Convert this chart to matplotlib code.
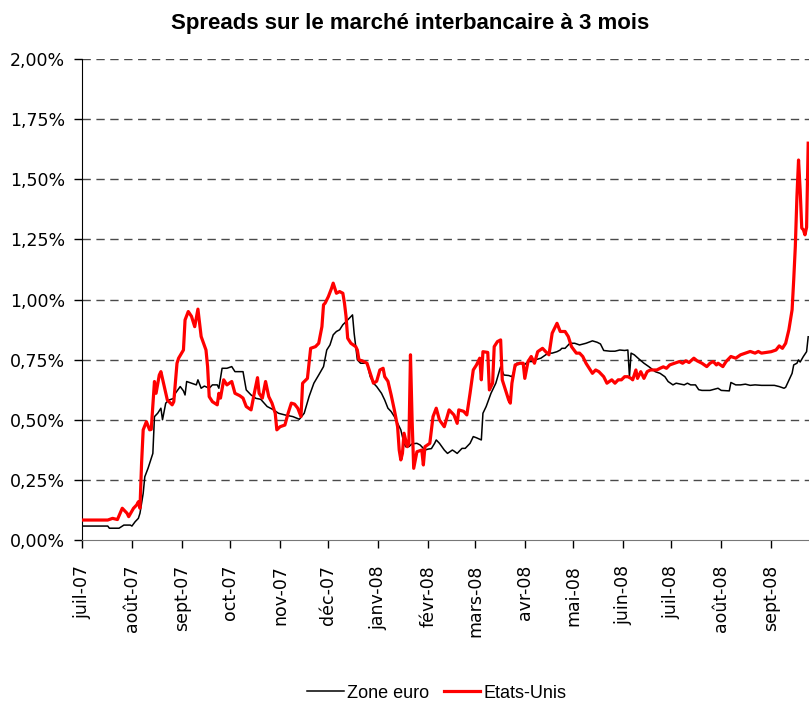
import matplotlib
matplotlib.use("Agg")
import matplotlib.pyplot as plt
import pandas as pd

# ---- data (spreads in %) ----
euro_dates = [
    "2007-07-01", "2007-07-17", "2007-07-18", "2007-07-24", "2007-07-27", "2007-07-31",
    "2007-08-01", "2007-08-03", "2007-08-05", "2007-08-06", "2007-08-08", "2007-08-09",
    "2007-08-11", "2007-08-14", "2007-08-15", "2007-08-17", "2007-08-19", "2007-08-20",
    "2007-08-22", "2007-08-24", "2007-08-27", "2007-08-28", "2007-08-31", "2007-09-02",
    "2007-09-03", "2007-09-04", "2007-09-07", "2007-09-10", "2007-09-11", "2007-09-13",
    "2007-09-15", "2007-09-18", "2007-09-20", "2007-09-23", "2007-09-24", "2007-09-26",
    "2007-09-29", "2007-10-02", "2007-10-04", "2007-10-07", "2007-10-09", "2007-10-11",
    "2007-10-14", "2007-10-17", "2007-10-20", "2007-10-24", "2007-10-28", "2007-10-31",
    "2007-11-04", "2007-11-09", "2007-11-13", "2007-11-16", "2007-11-19", "2007-11-22",
    "2007-11-25", "2007-11-28", "2007-11-30", "2007-12-02", "2007-12-04", "2007-12-06",
    "2007-12-08", "2007-12-10", "2007-12-12", "2007-12-14", "2007-12-16", "2007-12-17",
    "2007-12-18", "2007-12-19", "2007-12-21", "2007-12-25", "2007-12-27", "2007-12-29",
    "2007-12-31", "2008-01-03", "2008-01-05", "2008-01-07", "2008-01-09", "2008-01-11",
    "2008-01-13", "2008-01-15", "2008-01-17", "2008-01-18", "2008-01-20", "2008-01-22",
    "2008-01-25", "2008-01-27", "2008-01-29", "2008-01-30", "2008-02-01", "2008-02-03",
    "2008-02-05", "2008-02-06", "2008-02-08", "2008-02-11", "2008-02-13", "2008-02-16",
    "2008-02-17", "2008-02-19", "2008-02-22", "2008-02-24", "2008-02-27", "2008-02-29",
    "2008-03-02", "2008-03-05", "2008-03-06", "2008-03-08", "2008-03-11", "2008-03-14",
    "2008-03-17", "2008-03-19", "2008-03-22", "2008-03-24", "2008-03-27", "2008-03-29",
    "2008-04-01", "2008-04-03", "2008-04-06", "2008-04-08", "2008-04-11", "2008-04-14",
    "2008-04-16", "2008-04-18", "2008-04-21", "2008-04-23", "2008-04-24", "2008-04-26",
    "2008-04-29", "2008-05-02", "2008-05-05", "2008-05-09", "2008-05-13", "2008-05-16",
    "2008-05-18", "2008-05-20", "2008-05-24", "2008-05-27", "2008-05-30", "2008-06-02",
    "2008-06-04", "2008-06-05", "2008-06-06", "2008-06-08", "2008-06-11", "2008-06-14",
    "2008-06-17", "2008-06-21", "2008-06-24", "2008-06-27", "2008-06-29", "2008-07-02",
    "2008-07-04", "2008-07-07", "2008-07-09", "2008-07-11", "2008-07-13", "2008-07-16",
    "2008-07-18", "2008-07-20", "2008-07-25", "2008-07-30", "2008-08-01", "2008-08-06",
    "2008-08-07", "2008-08-10", "2008-08-13", "2008-08-16", "2008-08-19", "2008-08-22",
    "2008-08-26", "2008-08-30", "2008-09-03", "2008-09-06", "2008-09-09", "2008-09-10",
    "2008-09-13", "2008-09-14", "2008-09-15", "2008-09-17", "2008-09-18", "2008-09-19",
    "2008-09-21", "2008-09-23", "2008-09-24",
]
euro_values = [
    0.058, 0.058, 0.049, 0.049, 0.062, 0.062,
    0.058, 0.076, 0.090, 0.111, 0.194, 0.263,
    0.298, 0.360, 0.513, 0.527, 0.548, 0.500,
    0.569, 0.582, 0.589, 0.610, 0.638, 0.620,
    0.603, 0.659, 0.652, 0.645, 0.666, 0.631,
    0.640, 0.631, 0.645, 0.645, 0.631, 0.714,
    0.714, 0.721, 0.700, 0.700, 0.700, 0.624,
    0.603, 0.589, 0.585, 0.555, 0.541, 0.527,
    0.520, 0.513, 0.502, 0.527, 0.596, 0.652,
    0.686, 0.721, 0.790, 0.811, 0.853, 0.867,
    0.874, 0.895, 0.908, 0.922, 0.936, 0.860,
    0.804, 0.749, 0.735, 0.735, 0.679, 0.652,
    0.638, 0.610, 0.582, 0.548, 0.534, 0.513,
    0.485, 0.458, 0.402, 0.388, 0.388, 0.400,
    0.402, 0.395, 0.381, 0.374, 0.378, 0.380,
    0.402, 0.416, 0.402, 0.374, 0.360, 0.374,
    0.370, 0.360, 0.381, 0.381, 0.402, 0.430,
    0.425, 0.416, 0.527, 0.555, 0.610, 0.652,
    0.721, 0.686, 0.684, 0.679, 0.735, 0.735,
    0.730, 0.742, 0.742, 0.750, 0.756, 0.770,
    0.777, 0.777, 0.783, 0.790, 0.797, 0.797,
    0.818, 0.818, 0.811, 0.818, 0.828, 0.822,
    0.815, 0.788, 0.785, 0.785, 0.790, 0.788,
    0.790, 0.679, 0.777, 0.770, 0.752, 0.735,
    0.721, 0.700, 0.693, 0.679, 0.659, 0.645,
    0.652, 0.648, 0.645, 0.652, 0.645, 0.645,
    0.625, 0.622, 0.622, 0.631, 0.622, 0.620,
    0.655, 0.645, 0.645, 0.648, 0.643, 0.645,
    0.643, 0.643, 0.643, 0.638, 0.631, 0.635,
    0.679, 0.693, 0.728, 0.735, 0.749, 0.740,
    0.763, 0.783, 0.845,
]

us_dates = [
    "2007-07-01", "2007-07-17", "2007-07-20", "2007-07-23", "2007-07-26", "2007-07-29",
    "2007-07-30", "2007-08-02", "2007-08-04", "2007-08-05", "2007-08-06", "2007-08-07",
    "2007-08-08", "2007-08-10", "2007-08-12", "2007-08-13", "2007-08-15", "2007-08-16",
    "2007-08-18", "2007-08-19", "2007-08-22", "2007-08-23", "2007-08-26", "2007-08-27",
    "2007-08-29", "2007-08-30", "2007-09-02", "2007-09-03", "2007-09-05", "2007-09-07",
    "2007-09-09", "2007-09-11", "2007-09-13", "2007-09-16", "2007-09-17", "2007-09-18",
    "2007-09-20", "2007-09-23", "2007-09-24", "2007-09-25", "2007-09-27", "2007-09-29",
    "2007-10-02", "2007-10-04", "2007-10-07", "2007-10-09", "2007-10-11", "2007-10-14",
    "2007-10-16", "2007-10-18", "2007-10-19", "2007-10-21", "2007-10-23", "2007-10-25",
    "2007-10-27", "2007-10-29", "2007-10-30", "2007-11-01", "2007-11-04", "2007-11-06",
    "2007-11-08", "2007-11-10", "2007-11-12", "2007-11-14", "2007-11-15", "2007-11-18",
    "2007-11-20", "2007-11-23", "2007-11-25", "2007-11-27", "2007-11-28", "2007-11-29",
    "2007-12-01", "2007-12-03", "2007-12-04", "2007-12-06", "2007-12-08", "2007-12-10",
    "2007-12-11", "2007-12-12", "2007-12-13", "2007-12-15", "2007-12-18", "2007-12-19",
    "2007-12-20", "2007-12-22", "2007-12-25", "2007-12-27", "2007-12-29", "2007-12-31",
    "2008-01-02", "2008-01-04", "2008-01-05", "2008-01-07", "2008-01-09", "2008-01-11",
    "2008-01-13", "2008-01-14", "2008-01-15", "2008-01-16", "2008-01-17", "2008-01-19",
    "2008-01-20", "2008-01-21", "2008-01-22", "2008-01-23", "2008-01-25", "2008-01-28",
    "2008-01-29", "2008-01-30", "2008-02-02", "2008-02-04", "2008-02-06", "2008-02-08",
    "2008-02-11", "2008-02-14", "2008-02-17", "2008-02-19", "2008-02-20", "2008-02-23",
    "2008-02-25", "2008-02-27", "2008-02-29", "2008-03-02", "2008-03-04", "2008-03-05",
    "2008-03-06", "2008-03-09", "2008-03-10", "2008-03-12", "2008-03-13", "2008-03-15",
    "2008-03-17", "2008-03-18", "2008-03-20", "2008-03-22", "2008-03-23", "2008-03-24",
    "2008-03-26", "2008-03-29", "2008-03-31", "2008-04-01", "2008-04-03", "2008-04-05",
    "2008-04-07", "2008-04-09", "2008-04-12", "2008-04-14", "2008-04-16", "2008-04-18",
    "2008-04-21", "2008-04-23", "2008-04-26", "2008-04-28", "2008-04-30", "2008-05-03",
    "2008-05-05", "2008-05-07", "2008-05-09", "2008-05-11", "2008-05-13", "2008-05-15",
    "2008-05-17", "2008-05-20", "2008-05-22", "2008-05-25", "2008-05-27", "2008-05-29",
    "2008-05-31", "2008-06-02", "2008-06-04", "2008-06-06", "2008-06-07", "2008-06-09",
    "2008-06-10", "2008-06-12", "2008-06-14", "2008-06-16", "2008-06-18", "2008-06-22",
    "2008-06-24", "2008-06-26", "2008-06-28", "2008-06-30", "2008-07-03", "2008-07-06",
    "2008-07-08", "2008-07-10", "2008-07-12", "2008-07-15", "2008-07-17", "2008-07-20",
    "2008-07-23", "2008-07-25", "2008-07-27", "2008-07-29", "2008-07-30", "2008-08-02",
    "2008-08-04", "2008-08-07", "2008-08-10", "2008-08-13", "2008-08-16", "2008-08-19",
    "2008-08-22", "2008-08-24", "2008-08-26", "2008-08-29", "2008-09-01", "2008-09-04",
    "2008-09-06", "2008-09-08", "2008-09-10", "2008-09-12", "2008-09-14", "2008-09-15",
    "2008-09-16", "2008-09-17", "2008-09-18", "2008-09-19", "2008-09-20", "2008-09-21",
    "2008-09-22", "2008-09-23", "2008-09-24",
]
us_values = [
    0.083, 0.083, 0.090, 0.085, 0.132, 0.111,
    0.097, 0.132, 0.146, 0.159, 0.132, 0.319,
    0.458, 0.492, 0.458, 0.460, 0.659, 0.610,
    0.686, 0.700, 0.610, 0.582, 0.562, 0.575,
    0.735, 0.756, 0.790, 0.915, 0.950, 0.930,
    0.887, 0.960, 0.846, 0.790, 0.721, 0.596,
    0.575, 0.562, 0.610, 0.590, 0.666, 0.645,
    0.659, 0.610, 0.600, 0.590, 0.555, 0.541,
    0.610, 0.675, 0.610, 0.590, 0.659, 0.596,
    0.569, 0.527, 0.458, 0.471, 0.478, 0.527,
    0.569, 0.565, 0.548, 0.513, 0.652, 0.672,
    0.797, 0.804, 0.818, 0.887, 0.978, 0.985,
    1.012, 1.047, 1.068, 1.026, 1.033, 1.026,
    0.985, 0.929, 0.839, 0.818, 0.804, 0.790,
    0.749, 0.745, 0.735, 0.693, 0.652, 0.660,
    0.707, 0.714, 0.679, 0.660, 0.603, 0.540,
    0.471, 0.374, 0.333, 0.360, 0.444, 0.388,
    0.400, 0.770, 0.500, 0.298, 0.367, 0.374,
    0.312, 0.388, 0.402, 0.513, 0.548, 0.499,
    0.471, 0.541, 0.520, 0.485, 0.541, 0.535,
    0.520, 0.610, 0.707, 0.728, 0.756, 0.666,
    0.783, 0.780, 0.624, 0.652, 0.804, 0.825,
    0.832, 0.666, 0.624, 0.582, 0.569, 0.652,
    0.728, 0.735, 0.735, 0.672, 0.742, 0.763,
    0.735, 0.783, 0.797, 0.783, 0.770, 0.860,
    0.901, 0.867, 0.867, 0.846, 0.804, 0.777,
    0.777, 0.763, 0.735, 0.714, 0.693, 0.707,
    0.700, 0.679, 0.652, 0.666, 0.652, 0.666,
    0.666, 0.679, 0.679, 0.672, 0.666, 0.707,
    0.672, 0.700, 0.672, 0.700, 0.707, 0.707,
    0.714, 0.720, 0.714, 0.728, 0.735, 0.742,
    0.735, 0.745, 0.738, 0.756, 0.745, 0.735,
    0.721, 0.735, 0.742, 0.728, 0.735, 0.721,
    0.742, 0.763, 0.756, 0.770, 0.777, 0.784,
    0.777, 0.784, 0.777, 0.780, 0.783, 0.790,
    0.807, 0.797, 0.818, 0.874, 0.957, 1.081,
    1.220, 1.428, 1.580, 1.456, 1.297, 1.290,
    1.269, 1.300, 1.650,
]

month_ticks = ["2007-07-01", "2007-08-01", "2007-09-01", "2007-10-01", "2007-11-01",
               "2007-12-01", "2008-01-01", "2008-02-01", "2008-03-01", "2008-04-01",
               "2008-05-01", "2008-06-01", "2008-07-01", "2008-08-01", "2008-09-01"]
month_labels = ["juil-07", "août-07", "sept-07", "oct-07", "nov-07", "déc-07", "janv-08",
                "févr-08", "mars-08", "avr-08", "mai-08", "juin-08", "juil-08", "août-08",
                "sept-08"]
y_ticks = [0.0, 0.25, 0.5, 0.75, 1.0, 1.25, 1.5, 1.75, 2.0]
y_labels = ["0,00%", "0,25%", "0,50%", "0,75%", "1,00%", "1,25%", "1,50%", "1,75%", "2,00%"]

series_names = ["Zone euro", "Etats-Unis"]
title = "Spreads sur le marché interbancaire à 3 mois"

# ---- figure ----
plt.rcParams['font.family'] = ['Liberation Sans', 'DejaVu Sans']
fig = plt.figure(figsize=(8.09, 7.06), dpi=100)
ax = fig.add_axes([82 / 809, 166 / 706, 727 / 809, 481 / 706])

ax.plot(pd.to_datetime(euro_dates), euro_values, color="black", lw=1.1,
        label=series_names[0], zorder=3)
ax.plot(pd.to_datetime(us_dates), us_values, color="#ff0000", lw=2.3,
        label=series_names[1], zorder=4)

ax.set_xlim(pd.Timestamp("2007-07-01"), pd.Timestamp("2008-09-24 12:00"))
ax.set_ylim(0, 2.0)

ax.set_yticks(y_ticks)
ax.set_yticklabels(y_labels, fontsize=12.5, family=['DejaVu Sans'])
ax.set_xticks(pd.to_datetime(month_ticks))
ax.set_xticklabels(month_labels, rotation=90, fontsize=12.5, family=['DejaVu Sans'])

for y in y_ticks[1:]:
    ax.axhline(y, color="#4a4a4a", lw=1.0, ls=(0, (6, 4)), zorder=1)

ax.spines['top'].set_visible(False)
ax.spines['right'].set_visible(False)
ax.spines['left'].set_color("black")
ax.spines['bottom'].set_color("#777777")
ax.tick_params(axis='y', direction='out', length=6, width=1, pad=6)
ax.tick_params(axis='x', direction='out', length=6, width=1, pad=12)

fig.text(410 / 809, 1 - 24 / 706, title, fontsize=16, fontweight='bold',
         ha='center', va='center')

leg = fig.legend(loc='center', bbox_to_anchor=(437 / 809, 1 - 693 / 706), ncol=2,
                 frameon=False, handlelength=2.0, handletextpad=0.2,
                 columnspacing=0.8, prop={'size': 13})

fig.savefig("out.png", dpi=100)
